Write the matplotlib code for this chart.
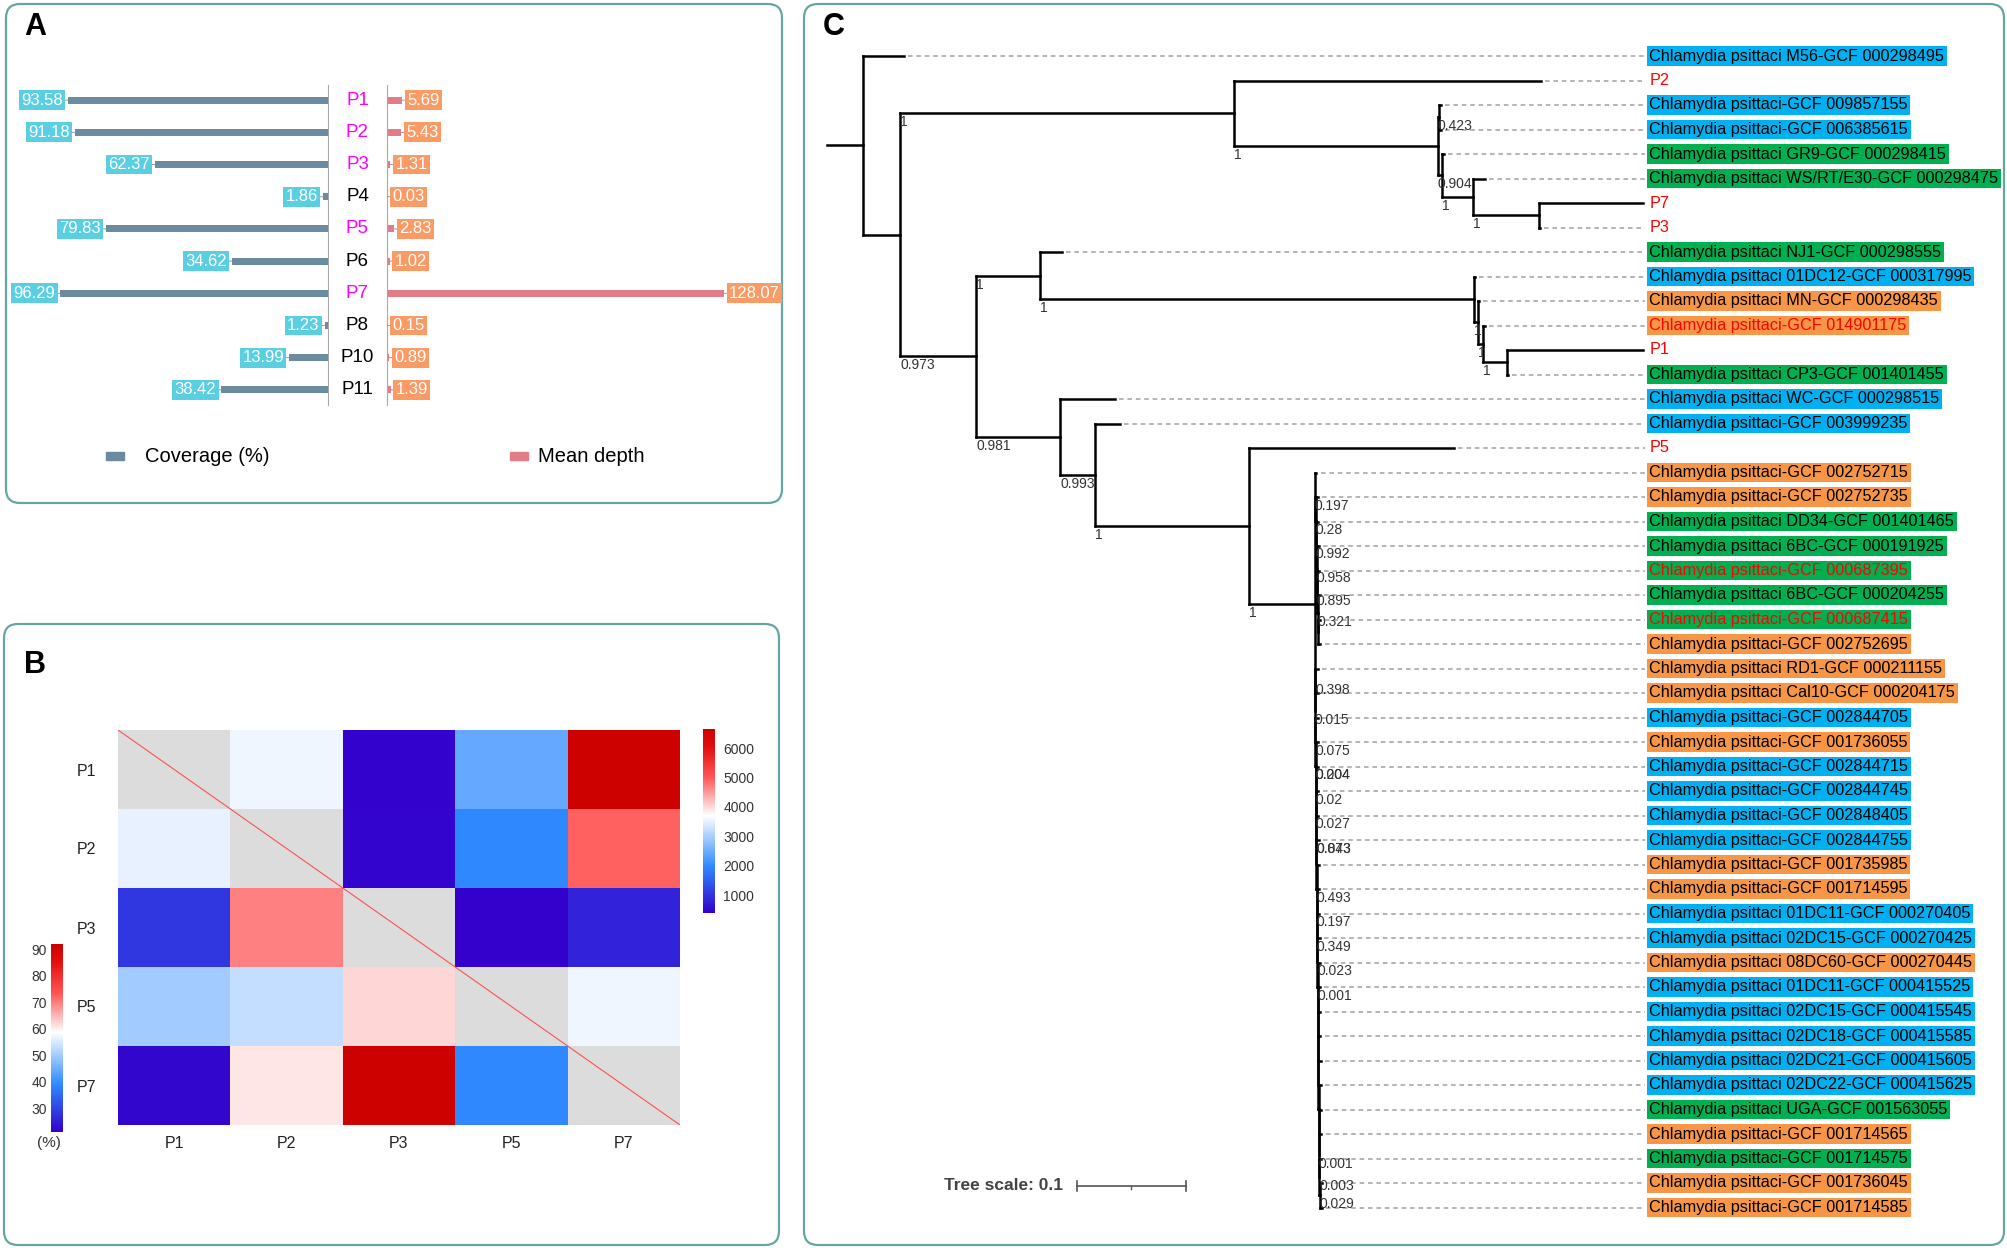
import matplotlib
matplotlib.use('Agg')
import matplotlib.pyplot as plt
import numpy as np
from matplotlib.patches import FancyBboxPatch, Rectangle
from matplotlib.colors import LinearSegmentedColormap, ListedColormap, Normalize
from matplotlib.collections import LineCollection
from matplotlib.cm import ScalarMappable

plt.rcParams['font.family'] = ['Liberation Sans', 'DejaVu Sans']

# ---------------- data: panel A ----------------
samples = ['P1', 'P2', 'P3', 'P4', 'P5', 'P6', 'P7', 'P8', 'P10', 'P11']
coverage = [93.58, 91.18, 62.37, 1.86, 79.83, 34.62, 96.29, 1.23, 13.99, 38.42]
mean_depth = [5.69, 5.43, 1.31, 0.03, 2.83, 1.02, 128.07, 0.15, 0.89, 1.39]
sample_colors = ['#FF00FF', '#FF00FF', '#FF00FF', '#000000', '#FF00FF',
                 '#000000', '#FF00FF', '#000000', '#000000', '#000000']

# ---------------- data: panel B ----------------
hm_labels = ['P1', 'P2', 'P3', 'P5', 'P7']
nan = np.nan
# upper triangle (SNP counts, right colour bar)
hm_upper = [[nan, 3583, 420, 2437, 6600],
            [nan, nan, 450, 1955, 4935],
            [nan, nan, nan, 400, 784],
            [nan, nan, nan, nan, 3583],
            [nan, nan, nan, nan, nan]]
# lower triangle (identity %, left colour bar)
hm_lower = [[nan, nan, nan, nan, nan],
            [56.3, nan, nan, nan, nan],
            [28.3, 69.8, nan, nan, nan],
            [50.0, 53.1, 62.3, nan, nan],
            [22.0, 60.8, 91.3, 38.8, nan]]
upper_ticks = [1000, 2000, 3000, 4000, 5000, 6000]
lower_ticks = [30, 40, 50, 60, 70, 80, 90]

# ---------------- data: panel C (tree) ----------------
prefix = 'Chlamydia psittaci'
leaf_labels = [
    prefix + ' M56-GCF 000298495', 'P2', prefix + '-GCF 009857155', prefix + '-GCF 006385615',
    prefix + ' GR9-GCF 000298415', prefix + ' WS/RT/E30-GCF 000298475', 'P7', 'P3',
    prefix + ' NJ1-GCF 000298555', prefix + ' 01DC12-GCF 000317995', prefix + ' MN-GCF 000298435',
    prefix + '-GCF 014901175', 'P1', prefix + ' CP3-GCF 001401455', prefix + ' WC-GCF 000298515',
    prefix + '-GCF 003999235', 'P5', prefix + '-GCF 002752715', prefix + '-GCF 002752735',
    prefix + ' DD34-GCF 001401465', prefix + ' 6BC-GCF 000191925', prefix + '-GCF 000687395',
    prefix + ' 6BC-GCF 000204255', prefix + '-GCF 000687415', prefix + '-GCF 002752695',
    prefix + ' RD1-GCF 000211155', prefix + ' Cal10-GCF 000204175', prefix + '-GCF 002844705',
    prefix + '-GCF 001736055', prefix + '-GCF 002844715', prefix + '-GCF 002844745',
    prefix + '-GCF 002848405', prefix + '-GCF 002844755', prefix + '-GCF 001735985',
    prefix + '-GCF 001714595', prefix + ' 01DC11-GCF 000270405', prefix + ' 02DC15-GCF 000270425',
    prefix + ' 08DC60-GCF 000270445', prefix + ' 01DC11-GCF 000415525', prefix + ' 02DC15-GCF 000415545',
    prefix + ' 02DC18-GCF 000415585', prefix + ' 02DC21-GCF 000415605', prefix + ' 02DC22-GCF 000415625',
    prefix + ' UGA-GCF 001563055', prefix + '-GCF 001714565', prefix + '-GCF 001714575',
    prefix + '-GCF 001736045', prefix + '-GCF 001714585']
leaf_bg = ['b', '', 'b', 'b', 'g', 'g', '', '', 'g', 'b', 'o', 'o', '', 'g', 'b', 'b', '',
           'o', 'o', 'g', 'g', 'g', 'g', 'g', 'o', 'o', 'o', 'b', 'o', 'b', 'b', 'b', 'b',
           'o', 'o', 'b', 'b', 'o', 'b', 'b', 'b', 'b', 'b', 'g', 'o', 'g', 'o', 'o']
leaf_fg = ['k', 'r', 'k', 'k', 'k', 'k', 'r', 'r', 'k', 'k', 'k', 'r', 'r', 'k', 'k', 'k', 'r',
           'k', 'k', 'k', 'k', 'r', 'k', 'r', 'k', 'k', 'k', 'k', 'k', 'k', 'k', 'k', 'k',
           'k', 'k', 'k', 'k', 'k', 'k', 'k', 'k', 'k', 'k', 'k', 'k', 'k', 'k', 'k']

tree_top = ("(L17:0.001,(L18:0.002,(L19:0.002,(L20:0.002,(L21:0.002,(L22:0.002,"
            "(L23:0.002,L24:0.002):0.0004)0.321:0.0004)0.895:0.0004)0.958:0.0004)"
            "0.992:0.0004)0.28:0.0004)0.197:0.0004")
tree_bottom = ("((L25:0.002,L26:0.002)0.398:0.0003,(L27:0.002,((L28:0.002,(L29:0.002,"
               "(L30:0.002,((L31:0.002,(L32:0.002,(L33:0.002,(L34:0.002,(L35:0.002,"
               "(L36:0.002,(L37:0.002,(L38:0.002,(L39:0.002,(L40:0.002,(L41:0.002,"
               "(L42:0.002,(L43:0.002,(L44:0.002,(L45:0.002,(L46:0.002,L47:0.002)"
               "0.029:0.0002)0.003:0.0002)0.001:0.0002):0.0002):0.0002):0.0002):0.0002)"
               ":0.0002):0.0002)0.001:0.0002)0.023:0.0002)0.349:0.0002)0.197:0.0002)"
               "0.493:0.0002):0.0002)0.843:0.0001)0.073:0.0001)0.027:0.0002)0.02:0.0002)"
               "0.204:0.0001)0.004:0.0001)0.075:0.0002)0.015:0.0002")
newick = ("(L0:0.0377,((L1:0.2819,((L2:0.0018,L3:0.0018)0.423:0.0009,(L4:0.0018,"
          "(L5:0.011,(L6:0.0955,L7:0.0009)1:0.0606)1:0.0285)0.904:0.0037)1:0.1873)"
          "1:0.3067,((L8:0.0202,(L9:0.0009,(L10:0.0009,(L11:0.0018,(L12:0.1249,"
          "L13:0.0009)1:0.022)1:0.0046)1:0.0037)1:0.3985)1:0.0588,(L14:0.0505,"
          "(L15:0.023,(L16:0.1882,(" + tree_top + "," + tree_bottom + ")1:0.0606)"
          "1:0.1414)0.993:0.0321)0.981:0.0771)0.973:0.0698):0.034);")
root_stub = 0.033
label_x = 0.72
scale_len = 0.1
scale_x0 = 0.1965

# ---------------- figure ----------------
W, H = 2008, 1248
fig = plt.figure(figsize=(W / 100, H / 100), dpi=100)


def px_axes(x0, y0, x1, y1):
    return fig.add_axes([x0 / W, 1 - y1 / H, (x1 - x0) / W, (y1 - y0) / H])


overlay = px_axes(0, 0, W, H)
overlay.set_xlim(0, W)
overlay.set_ylim(H, 0)
overlay.axis('off')

frame_col = '#66A6A2'
for (x0, y0, x1, y1) in [(6, 4, 782, 503), (4, 624, 779, 1245), (804, 4, 2004, 1245)]:
    overlay.add_patch(FancyBboxPatch((x0, y0), x1 - x0, y1 - y0,
                                     boxstyle='round,pad=0,rounding_size=14',
                                     fc='none', ec=frame_col, lw=1.6))
for (x, y, s) in [(24, 27, 'A'), (24, 665, 'B'), (823, 27, 'C')]:
    overlay.text(x, y, s, fontsize=22, fontweight='bold', va='center', ha='left')

# ---------------- panel A ----------------
cov_col = '#6A8BA0'
dep_col = '#E27D87'
ypos = np.arange(len(samples))
axL = px_axes(50, 85, 328, 405)
axL.barh(ypos, coverage, height=0.22, color=cov_col)
axL.set_xlim(100, 0)
axL.set_ylim(9.47, -0.47)
axR = px_axes(387, 85, 780, 405)
axR.barh(ypos, mean_depth, height=0.22, color=dep_col)
axR.set_xlim(0, 149.4)
axR.set_ylim(9.47, -0.47)
for ax, side in [(axL, 'right'), (axR, 'left')]:
    for k, sp in ax.spines.items():
        sp.set_visible(k == side)
        sp.set_color('#A8A8A8')
        sp.set_linewidth(0.8)
    ax.set_xticks([])
    ax.set_yticks([])
    ax.patch.set_alpha(0)

for i, v in enumerate(coverage):
    axL.annotate(f'{v:.2f}', xy=(v, i), xytext=(-3.6, 0), textcoords='offset points',
                 ha='right', va='center', fontsize=12, color='white',
                 bbox=dict(boxstyle='square,pad=0.14', fc='#5BCFE2', ec='none'),
                 arrowprops=dict(arrowstyle='-', color='#8A8A8A', lw=0.6, shrinkA=0, shrinkB=0),
                 annotation_clip=False)
for i, v in enumerate(mean_depth):
    axR.annotate(f'{v:.2f}', xy=(v, i), xytext=(3.6, 0), textcoords='offset points',
                 ha='left', va='center', fontsize=12, color='white',
                 bbox=dict(boxstyle='square,pad=0.14', fc='#FA9A64', ec='none'),
                 arrowprops=dict(arrowstyle='-', color='#8A8A8A', lw=0.6, shrinkA=0, shrinkB=0),
                 annotation_clip=False)

axM = px_axes(328, 85, 387, 405)
axM.set_xlim(0, 1)
axM.set_ylim(9.47, -0.47)
axM.axis('off')
for i, (s, c) in enumerate(zip(samples, sample_colors)):
    axM.text(0.5, i, s, ha='center', va='center', fontsize=13.5, color=c)

overlay.add_patch(Rectangle((106, 452), 18, 8, color=cov_col))
overlay.text(145, 456, 'Coverage (%)', fontsize=14.5, va='center', ha='left')
overlay.add_patch(Rectangle((510, 452), 18, 8, color=dep_col))
overlay.text(538, 456, 'Mean depth', fontsize=14.5, va='center', ha='left')

# ---------------- panel B ----------------
cmap = LinearSegmentedColormap.from_list('snp', [(0, '#3300CC'), (0.256, '#2F8BFF'),
                                                 (0.53, '#FFFFFF'), (0.74, '#FF5555'),
                                                 (0.9, '#E41010'), (1, '#CC0000')])
norm_up = Normalize(390, 6650)
norm_lo = Normalize(21, 92)
n = len(hm_labels)
edges = np.arange(n + 1)
axH = px_axes(118, 730, 680, 1125)
up = np.ma.masked_invalid(np.array(hm_upper, dtype=float))
lo = np.ma.masked_invalid(np.array(hm_lower, dtype=float))
diag = np.ma.masked_invalid(np.where(np.eye(n) > 0, 1.0, np.nan))
axH.pcolormesh(edges, edges, up, cmap=cmap, norm=norm_up, linewidth=0, antialiased=False)
axH.pcolormesh(edges, edges, lo, cmap=cmap, norm=norm_lo, linewidth=0, antialiased=False)
axH.pcolormesh(edges, edges, diag, cmap=ListedColormap(['#DCDCDC']), linewidth=0, antialiased=False)
axH.plot([0, n], [0, n], color='#FF5050', lw=0.8)
axH.set_xlim(0, n)
axH.set_ylim(n, 0)
axH.set_xticks(edges[:-1] + 0.5)
axH.set_xticklabels(hm_labels, fontsize=11.5, color='#222222')
axH.set_yticks(edges[:-1] + 0.5)
axH.set_yticklabels(hm_labels, fontsize=11.5, color='#222222')
axH.tick_params(length=0, pad=8)
axH.tick_params(axis='y', pad=16)
for sp in axH.spines.values():
    sp.set_visible(False)

caxR = px_axes(703, 729, 715, 913)
cbR = fig.colorbar(ScalarMappable(norm=norm_up, cmap=cmap), cax=caxR, ticks=upper_ticks)
cbR.outline.set_visible(False)
caxR.tick_params(length=0, pad=6, labelsize=10, labelcolor='#333333')

caxLb = px_axes(51, 944, 63, 1132)
cbL = fig.colorbar(ScalarMappable(norm=norm_lo, cmap=cmap), cax=caxLb, ticks=lower_ticks)
cbL.outline.set_visible(False)
caxLb.yaxis.set_ticks_position('left')
caxLb.tick_params(length=0, pad=3, labelsize=10, labelcolor='#333333')
overlay.text(49, 1143, '(%)', fontsize=11, ha='center', va='center', color='#333333')


# ---------------- panel C ----------------
def parse_newick(s):
    pos = 0

    def node():
        nonlocal pos
        nd = {'children': [], 'name': None, 'support': None, 'length': 0.0}
        if s[pos] == '(':
            pos += 1
            while True:
                nd['children'].append(node())
                if s[pos] == ',':
                    pos += 1
                    continue
                pos += 1
                break
        st = pos
        while s[pos] not in ',():;':
            pos += 1
        lab = s[st:pos]
        if nd['children']:
            nd['support'] = lab or None
        else:
            nd['name'] = lab
        if s[pos] == ':':
            pos += 1
            st = pos
            while s[pos] not in ',();':
                pos += 1
            nd['length'] = float(s[st:pos])
        return nd

    return node()


root = parse_newick(newick)


def layout(nd, x0):
    nd['x'] = x0 + nd['length']
    if not nd['children']:
        nd['y'] = float(int(nd['name'][1:]))
    else:
        for c in nd['children']:
            layout(c, nd['x'])
        nd['y'] = (nd['children'][0]['y'] + nd['children'][-1]['y']) / 2


layout(root, 0.0)

axT = px_axes(820, 20, 2000, 1240)
axT.set_xlim((820 - 863) / 1089, (2000 - 863) / 1089)
axT.set_ylim((1240 - 56) / 24.5, (20 - 56) / 24.5)
axT.axis('off')

segs = [[(-root_stub, root['y']), (0, root['y'])]]
dashed = []
leaves = []


def walk(nd, px):
    if px is not None:
        segs.append([(px, nd['y']), (nd['x'], nd['y'])])
        if nd['support']:
            axT.text(px, nd['y'] + 0.367, nd['support'], fontsize=10, color='#333333',
                     ha='left', va='center')
    if nd['children']:
        segs.append([(nd['x'], nd['children'][0]['y']), (nd['x'], nd['children'][-1]['y'])])
        for c in nd['children']:
            walk(c, nd['x'])
    else:
        leaves.append(nd)
        if nd['x'] < label_x - 0.006:
            dashed.append([(nd['x'] + 0.004, nd['y']), (label_x - 0.002, nd['y'])])


walk(root, None)
axT.add_collection(LineCollection(dashed, colors='#A0A0A0', linewidths=1.1,
                                  linestyles=[(0, (3, 2.5))]))
axT.add_collection(LineCollection(segs, colors='black', linewidths=1.8, capstyle='projecting'))

bg_map = {'b': '#00B0F0', 'g': '#00B050', 'o': '#F79646'}
fg_map = {'k': '#000000', 'r': '#FF0000'}
for nd in leaves:
    i = int(nd['name'][1:])
    kw = {}
    if leaf_bg[i]:
        kw['bbox'] = dict(boxstyle='square,pad=0.15', fc=bg_map[leaf_bg[i]], ec='none')
    axT.text(label_x + 0.0022, nd['y'], leaf_labels[i], fontsize=11.7, color=fg_map[leaf_fg[i]],
             ha='left', va='center', **kw)

yb = (1186 - 56) / 24.5
axT.plot([scale_x0, scale_x0 + scale_len], [yb, yb], color='#555555', lw=1.2)
for xx in (scale_x0, scale_x0 + scale_len):
    axT.plot([xx, xx], [yb - 0.22, yb + 0.22], color='#555555', lw=1.2)
axT.plot([scale_x0 + scale_len / 2] * 2, [yb, yb + 0.12], color='#555555', lw=1.0)
axT.text(scale_x0 - 0.013, yb, f'Tree scale: {scale_len:g}', fontsize=12.5, fontweight='bold',
         color='#444444', ha='right', va='center')

fig.savefig('out.png', dpi=100, facecolor='white')
